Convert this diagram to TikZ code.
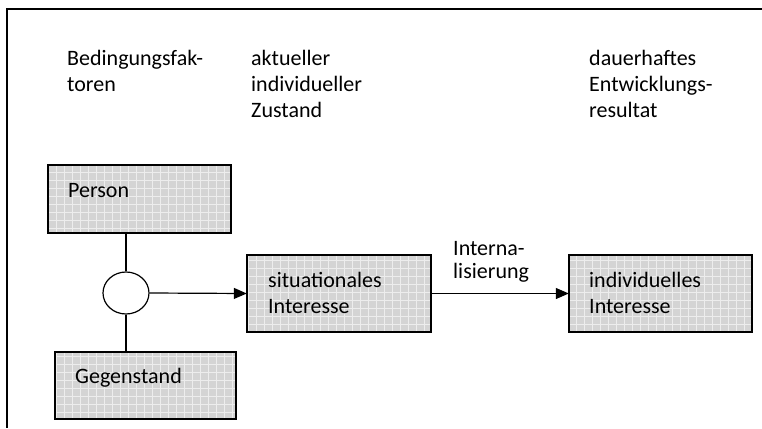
\documentclass[tikz,border=0pt]{standalone}
\usepackage{fontspec}
\setmainfont{Carlito}
\usetikzlibrary{positioning}
\usetikzlibrary{arrows.meta}
\usetikzlibrary{patterns.meta}
\usetikzlibrary{shapes.geometric}

\tikzset{
  kasten/.style={fill=black!17, inner sep=0pt,
    postaction={pattern={Hatch[distance=8pt, angle=0, line width=0.7pt]}, pattern color=black!7},
    postaction={draw, line width=1.8pt}},
  txt/.style={anchor=north west, inner sep=0pt, align=left, font=\fontsize{22}{26}\selectfont},
  verb/.style={line width=1.2pt},
  pfeil/.style={verb, -{Triangle[length=13pt, width=11pt]}}
}

\begin{document}
\begin{tikzpicture}[x=1pt, y=-1pt]
\useasboundingbox (0,0) rectangle (762,428);
\draw[line width=1.4pt] (762,9) -- (7,9) -- (7,428);

\node[txt] (bedingung) at (67,46.8) {\strut Bedingungsfak-\\toren};
\node[txt] (zustand) at (251,46.8) {\strut aktueller\\individueller\\Zustand};
\node[txt] (resultat) at (589,46.8) {\strut dauerhaftes\\Entwicklungs-\\resultat};

\node[kasten, minimum width=183pt, minimum height=68pt] (person) at (139.5,199) {};
\node[kasten, minimum width=181pt, minimum height=67pt] (gegenstand) at (145.5,385.5) {};
\node[kasten, minimum width=184pt, minimum height=77pt] (situativ) at (339,293.5) {};
\node[kasten, minimum width=183pt, minimum height=77pt] (individuell) at (660.5,293.5) {};
\node[ellipse, draw, verb, fill=white, minimum width=46pt, minimum height=42pt, inner sep=0pt] (verbindung) at (126,293) {};

\node[txt] (tperson) at (68,178.8) {\strut Person};
\node[txt] (tgegenstand) at (75,364.8) {\strut Gegenstand};
\node[txt] (tsituativ) at (268,268.8) {\strut situationales\\Interesse};
\node[txt] (tindividuell) at (589,268.8) {\strut individuelles\\Interesse};
\begin{scope}
\clip (440,225) rectangle (570,282);
\node[txt, font=\fontsize{22}{22.5}\selectfont] (internal) at (453,240) {\strut Interna-\\lisierung};
\end{scope}

\draw[verb] (verbindung.north) -- (verbindung.north |- person.south);
\draw[verb] (verbindung.south) -- (verbindung.south |- gegenstand.north);
\draw[pfeil] (verbindung.east) -- (situativ.west);
\draw[pfeil] (situativ.east) -- (individuell.west);
\end{tikzpicture}
\end{document}
